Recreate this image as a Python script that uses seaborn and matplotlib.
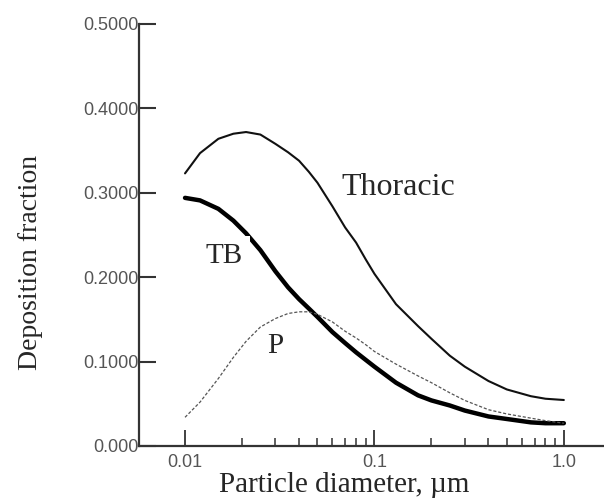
import numpy as np
import pandas as pd
import seaborn as sns
import matplotlib.pyplot as plt
from matplotlib.ticker import FixedLocator, FixedFormatter, NullFormatter

# particle diameter (um)
diameter = [0.010, 0.012, 0.015, 0.018, 0.021, 0.025, 0.030, 0.035, 0.040, 0.045,
            0.050, 0.060, 0.070, 0.080, 0.090, 0.100, 0.130, 0.170, 0.200, 0.250,
            0.300, 0.400, 0.500, 0.670, 0.800, 1.000]

# deposition fractions
thoracic = [0.323, 0.347, 0.364, 0.370, 0.372, 0.369, 0.358, 0.348, 0.338, 0.325,
            0.312, 0.284, 0.259, 0.241, 0.221, 0.204, 0.168, 0.142, 0.127, 0.107,
            0.094, 0.077, 0.067, 0.059, 0.056, 0.0545]
tb = [0.294, 0.291, 0.281, 0.267, 0.252, 0.232, 0.207, 0.188, 0.174, 0.163,
      0.153, 0.135, 0.122, 0.111, 0.102, 0.094, 0.075, 0.060, 0.054, 0.048,
      0.042, 0.035, 0.032, 0.028, 0.027, 0.027]
p = [0.034, 0.052, 0.080, 0.105, 0.124, 0.141, 0.151, 0.157, 0.159, 0.159,
     0.156, 0.147, 0.136, 0.128, 0.120, 0.112, 0.097, 0.083, 0.075, 0.063,
     0.054, 0.043, 0.038, 0.033, 0.030, 0.027]

y_ticks = [0.0, 0.1, 0.2, 0.3, 0.4, 0.5]
y_tick_labels = ["0.000", "0.1000", "0.2000", "0.3000", "0.4000", "0.5000"]
x_ticks = [0.01, 0.1, 1.0]
x_tick_labels = ["0.01", "0.1", "1.0"]

df = pd.DataFrame({"d": diameter, "Thoracic": thoracic, "TB": tb, "P": p})

sns.set_style("white")
plt.rcParams['font.family'] = ['Liberation Sans', 'DejaVu Sans']

fig = plt.figure(figsize=(6.04, 5.0), dpi=100)
ax = fig.add_axes([139/604, 54/500, 465/604, 422/500])
ax.set_xscale('log')

sns.lineplot(data=df, x="d", y="Thoracic", ax=ax, color="#111111", linewidth=1.5)
sns.lineplot(data=df, x="d", y="TB", ax=ax, color="#000000", linewidth=3.2)
sns.lineplot(data=df, x="d", y="P", ax=ax, color="#555555", linewidth=0.9,
             linestyle=(0, (2.5, 1.5)))

ax.set_xlim(10**-2.243, 10**0.212)
ax.set_ylim(0, 0.5)
ax.set_xlabel("")
ax.set_ylabel("")

# spines
for s in ["top", "right"]:
    ax.spines[s].set_visible(False)
for s in ["left", "bottom"]:
    ax.spines[s].set_color("#333333")
    ax.spines[s].set_linewidth(1.6)

# ticks
ax.yaxis.set_major_locator(FixedLocator(y_ticks))
ax.yaxis.set_major_formatter(FixedFormatter(y_tick_labels))
ax.xaxis.set_major_locator(FixedLocator(x_ticks))
ax.xaxis.set_major_formatter(FixedFormatter(x_tick_labels))
minor = [k * 10.0**e for e in (-2, -1) for k in range(2, 10)]
ax.xaxis.set_minor_locator(FixedLocator(minor))
ax.xaxis.set_minor_formatter(NullFormatter())

ax.tick_params(axis='y', which='major', direction='in', length=12, width=1.5,
               color="#333333", labelsize=13, labelcolor="#555555", pad=0, left=True)
ax.tick_params(axis='x', which='major', direction='in', length=11.5, width=1.3,
               color="#333333", labelsize=13, labelcolor="#555555", pad=6, bottom=True)
ax.tick_params(axis='x', which='minor', direction='in', length=5.5, width=1.1,
               color="#333333", bottom=True)

# curve labels
serif = ['Liberation Serif', 'DejaVu Serif']
ax.text(0.134, 0.297, "Thoracic", family=serif, fontsize=23, ha='center', va='baseline')
ax.text(0.0161, 0.217, "TB", family=serif, fontsize=21, ha='center', va='baseline',
        bbox=dict(facecolor='white', edgecolor='none', pad=5))
ax.text(0.0299, 0.110, "P", family=serif, fontsize=21, ha='center', va='baseline')

# axis labels
fig.text(31/604, 1 - 262/500, "Deposition fraction", family=serif, fontsize=20,
         rotation=90, ha='center', va='center')
fig.text(344/604, 1 - 485/500, "Particle diameter, \u00b5m", family=serif, fontsize=21,
         ha='center', va='center')

plt.savefig("out.png", dpi=100)
